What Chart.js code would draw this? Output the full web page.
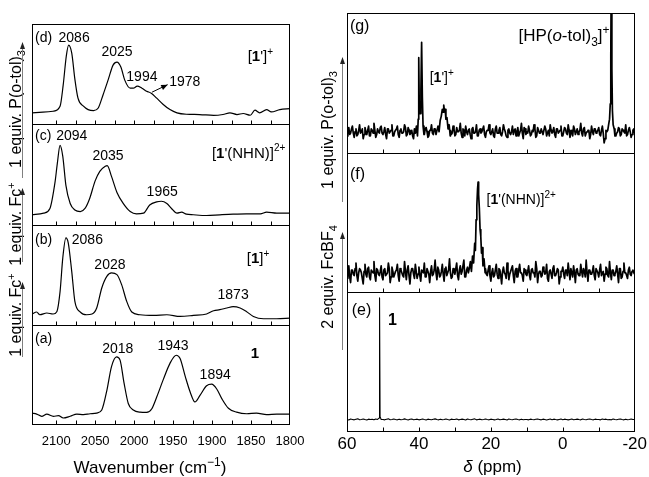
<!DOCTYPE html>
<html><head><meta charset="utf-8">
<script src="https://cdn.jsdelivr.net/npm/chart.js@4.4.1/dist/chart.umd.min.js"></script>
<style>
html,body{margin:0;padding:0;background:#fff;}
#wrap{position:relative;width:649px;height:477px;overflow:hidden;background:#fff;}
#cL{position:absolute;left:0;top:0;}
#cR{position:absolute;left:320px;top:0;}
</style></head><body>
<div id="wrap"><canvas id="cL" width="320" height="477"></canvas><canvas id="cR" width="329" height="477"></canvas></div>
<script>
const FONT = '"Liberation Sans", Arial, Helvetica, sans-serif';

// ---------- IR (left) ----------
const irTicks = [2100, 2050, 2000, 1950, 1900, 1850, 1800];
const irTickMarks = [2100, 2075, 2050, 2025, 2000, 1975, 1950, 1925, 1900, 1875, 1850, 1825];

const irDWn  = [2131,2117,2104,2095,2091,2087,2084,2080,2076,2072,2065,2059,2052,2046,2040,2033,2027,2022,2017,2012,2005,2001,1996,1990,1984,1978,1971,1963,1954,1945,1933,1916,1898,1886,1877,1868,1860,1851,1845,1839,1830,1824,1813,1800];
const irDAbs = [11.4,12,13,18,39,68,79,71,45,26,18,14.6,13.6,16.2,29,45,59,62,57,44,36,36,38,36,33,31,26,20,14.6,11.4,10,9.7,8.8,9.7,11.4,9.7,10.7,9,14,11.4,14.6,12.3,14.6,15.6];

const irCWn  = [2131,2116,2108,2101.5,2098.5,2095,2091.5,2087.5,2082,2076,2069,2063,2057,2050,2044,2037,2034.5,2029,2022,2014,2005,1997,1988,1980,1971,1965,1958,1952,1945,1939,1933,1924,1907,1890,1873,1856,1838,1830,1817,1800];
const irCAbs = [9.7,11.3,16,42,61,79,68,39,21,14.5,12.9,16,26,43.5,53,58,58.7,48,32,21,12.9,10.6,11.3,19.4,22.6,23.2,21,16,11.3,12.3,10.3,9.7,9,9.7,10.3,10.6,10.6,12.3,11.3,11.3];

const irBWn  = [2131,2125,2121,2112,2104,2099,2095,2091.5,2087.5,2084.5,2080,2076,2069,2061,2054,2048,2041.5,2035,2029,2022,2016,2009.5,2003,1992.5,1975,1958,1941,1924,1907,1898,1890,1881,1873,1864,1856,1847,1834,1817,1800];
const irBAbs = [10.7,12.7,10,11.7,10.7,13.3,33,66.7,86.7,81.7,53,23.3,12.7,10,10.7,16.7,36.7,48.3,51.7,50,40,23.3,12.7,10,9.3,10,8.3,9.3,10.7,14,15,16.7,18,16.7,13.3,8.3,6,6,6.7];

const irAWn  = [2131,2125,2118.5,2112,2103.5,2097,2091,2082,2073.5,2065,2056.5,2048,2041.5,2035,2029,2022.5,2018,2013,2007.5,2001,1992.5,1984,1977.5,1971,1962.5,1954,1946,1941,1934.5,1928,1922,1915.5,1907,1900.5,1894,1887.5,1879,1868.5,1855.5,1843,1830,1817,1800];
const irAAbs = [11.9,10.9,8.7,10.9,8.7,9.3,7,8.7,10.9,10.3,11.2,11.9,15,34.3,58.3,68,64.7,42.3,21.5,15,12.8,12.5,16,27.9,45.5,61.5,69.6,66.3,48.7,32.7,23,29.5,39.1,40.7,35.9,26.3,16.7,12.8,11.2,11.9,10.3,10.9,10.9];

// ---------- 31P NMR (right) ----------
const nmrTicks = [60, 40, 20, 0, -20];
const nmrTickMarks = [50, 40, 30, 20, 10, 0, -10];
const nmrStart = 60, nmrHalfStart = 59.75, nmrStep = -0.5;   // baseline samples, 60 ppm down to -20 ppm

const gNoise = [
 12,18,14,19,11,17,13,20,15,10,18,13,19,12,16,21,11,17,14,19,
 13,18,10,17,15,20,12,16,19,11,17,14,20,12,18,13,16,10,19,14,
 17,12,19,13,18,11,16,20,13,17,15,19,12,18,14,20,11,17,13,19,
 12,18,15,21,11,16,19,13,17,10,18,14,20,12,17,15,19,11,16,20,
 13,17,11,19,14,18,12,20,15,11,17,13,19,16,12,18,14,21,10,17,
 15,19,12,16,20,11,18,14,17,13,19,12,16,20,14,18,11,17,15,19,
 12,18,14,20,11,16,19,13,17,15,21,12,18,14,16,10,19,13,17,15,
 18,12,19,7,16,20,13,17,15,19,14,18,12,17,15,20,13,18,11,16,
 14];
const gNoiseHalf = [
 16,13,17,14,15,12,16,14,17,13,15,16,12,17,14,16,13,15,18,14,
 15,13,17,14,16,12,15,17,13,16,14,15,18,13,16,14,12,17,15,13,
 16,14,13,17,15,12,16,14,17,13,15,16,14,13,17,15,12,16,14,17,
 13,15,16,14,17,12,15,16,13,17,14,15,12,16,14,17,13,15,16,14,
 15,12,17,14,16,13,15,17,12,16,14,15,13,17,15,12,16,14,18,13,
 14,16,13,15,17,12,16,14,15,13,17,14,12,16,15,13,17,14,16,12,
 15,17,13,16,14,12,17,15,13,16,14,17,12,15,16,13,15,17,14,16,
 13,16,14,10,15,13,17,14,16,12,15,17,13,16,14,12,16,15,13,17];
const gPk1X = [41.0,40.7,40.4,40.2,40.05,39.9,39.7,39.45,39.25,39.05,38.85,38.6];
const gPk1Y = [14,19,12,24,68,30,28,45,79,40,19,13];
const gPk2X = [35.0,34.7,34.4,34.1,33.8,33.5,33.3,33.1,32.9,32.7,32.5,32.2,31.9,31.6,31.3];
const gPk2Y = [13,19,15,23,26,31,29,34,30,31,24,25,17,20,12];
const gPk3X = [-12.5,-12.8,-13.0,-13.2,-13.35,-13.5,-13.65,-13.8,-14.0,-14.3,-14.5];
const gPk3Y = [16,21,24,35,70,140,60,30,20,17,12];

const fNoise = [
 10,19,7,16,12,21,8,17,14,6,20,11,18,9,15,22,8,16,12,19,
 9,17,13,21,7,18,11,15,20,8,16,12,22,9,19,6,17,13,20,10,
 18,8,15,21,11,17,7,19,13,23,9,16,12,20,8,18,14,24,10,17,
 13,21,9,19,15,23,11,18,16,20,25,30,40,60,50,30,22,17,12,19,
 8,17,12,20,10,16,6,18,13,21,9,15,19,7,17,11,20,14,8,16,
 12,19,9,17,14,22,7,15,11,18,13,20,8,16,10,19,12,17,6,15,
 18,10,16,21,9,14,19,7,17,12,20,11,15,23,8,16,13,19,9,17,
 11,20,14,8,18,12,22,9,16,13,19,7,17,11,21,14,10,18,12,16,
 13];
const fNoiseHalf = [
 15,11,16,13,17,12,14,16,10,15,13,17,11,16,14,12,17,13,15,11,
 16,12,14,17,11,15,13,16,12,17,14,11,15,16,12,14,17,10,15,13,
 12,16,14,11,17,13,15,12,16,14,18,11,15,13,17,12,16,14,11,15,
 17,12,16,13,15,11,16,14,20,28,35,50,70,55,40,25,18,13,16,12,
 14,11,16,13,17,12,15,14,10,16,13,17,12,15,11,16,14,12,17,13,
 15,12,16,14,11,17,13,15,12,16,14,10,15,13,17,12,14,16,11,15,
 13,16,12,15,17,11,14,16,13,12,15,17,11,14,16,13,15,12,17,14,
 16,12,15,13,17,11,14,16,12,15,13,17,10,15,14,12,16,13,15,14];
const fPkX = [26.0,25.7,25.4,25.1,24.8,24.5,24.3,24.1,23.9,23.7,23.55,23.4,23.2,23.0,22.8,22.6,22.4,22.2,21.9,21.6];
const fPkY = [17,22,15,26,21,35,30,52,62,74,79,70,60,45,40,28,32,19,24,14];

const eNoise = [
 8.9,8.6,9.3,9.0,8.7,9.1,9.4,8.8,9.0,9.3,8.9,8.6,9.2,9.0,9.1,8.7,9.3,8.9,8.6,9.2,
 9.0,8.7,9.1,9.4,8.8,9.0,9.3,8.9,8.7,9.2,8.8,9.0,9.4,8.9,8.6,9.1,9.3,8.8,9.0,9.2,
 8.7,9.0,9.3,8.9,8.6,9.2,9.0,8.8,9.1,9.4,8.9,8.7,9.2,8.8,9.0,9.3,8.9,8.6,9.2,9.0,
 8.9,9.3,8.7,9.0,9.2,8.9,8.6,9.3,9.0,8.8,9.1,9.4,8.7,9.0,9.2,8.8,9.0,9.3,8.9,8.7,
 9.2,9.0,8.7,8.9,9.3,8.8,9.0,9.2,8.9,8.6,9.3,9.0,8.8,9.1,9.3,8.9,8.7,9.2,8.8,9.0,
 9.0,8.7,9.2,8.9,8.8,9.1,9.3,9.0,8.7,9.2,8.9,8.6,9.0,9.3,8.8,9.2,8.9,8.7,9.0,9.3,
 8.8,9.2,9.0,8.7,9.0,9.3,8.8,9.0,9.2,8.9,8.7,9.3,9.0,8.8,9.1,9.3,8.9,8.7,9.2,9.0,
 9.0,8.7,9.3,8.9,9.2,8.8,9.0,8.7,9.3,9.0,8.8,9.1,9.3,8.9,8.7,9.2,8.8,9.0,9.3,8.9,
 9.0];
const ePkX = [51.5,51.1,50.95,50.8,50.5];
const ePkY = [9,10,96,11,9];

// ---------- helpers ----------
function xy(xs, ys){ return xs.map((x,i)=>({x, y: ys[i]})); }
function nmrSeries(noiseLists, peaks){
  const pts = [];
  noiseLists.forEach(([start, noise])=>{
    noise.forEach((v,i)=>{
      const x = start + i*nmrStep;
      const inPeak = peaks.some(([px])=> x <= Math.max(...px) && x >= Math.min(...px));
      if(!inPeak) pts.push({x, y:v});
    });
  });
  peaks.forEach(([px,py])=> px.forEach((x,i)=>pts.push({x, y:py[i]})));
  pts.sort((a,b)=>b.x-a.x);
  return pts;
}
function parseRich(str){
  const segs=[]; let b=false, it=false, k=0;
  while(k<str.length){
    const c=str[k];
    if(c==='*'){b=!b;k++;continue;}
    if(c==='~'){it=!it;k++;continue;}
    if((c==='^'||c==='_')&&str[k+1]==='{'){
      const end=str.indexOf('}',k);
      segs.push({t:str.slice(k+2,end),b,i:it,pos:c==='^'?1:-1});
      k=end+1;continue;
    }
    let t='';
    while(k<str.length && str[k]!=='*' && str[k]!=='~' && !((str[k]==='^'||str[k]==='_')&&str[k+1]==='{')){t+=str[k];k++;}
    segs.push({t,b,i:it,pos:0});
  }
  return segs;
}
function drawRich(ctx,str,x,y,size,align){
  const segs=parseRich(str);
  const fontFor=s=>(s.i?'italic ':'')+(s.b?'bold ':'')+(s.pos?Math.round(size*0.68):size)+'px '+FONT;
  let w=0;
  segs.forEach(s=>{ctx.font=fontFor(s); s.w=ctx.measureText(s.t).width; w+=s.w;});
  let cx = align==='center'? x-w/2 : align==='right'? x-w : x;
  ctx.textAlign='left'; ctx.textBaseline='alphabetic'; ctx.fillStyle='#000';
  const base=y+size*0.36;
  segs.forEach(s=>{
    ctx.font=fontFor(s);
    const dy = s.pos===1 ? -size*0.42 : s.pos===-1 ? size*0.24 : 0;
    ctx.fillText(s.t,cx,base+dy); cx+=s.w;
  });
}
function arrowLine(ctx,x,y1,y2){
  ctx.save();
  ctx.strokeStyle='#808080'; ctx.lineWidth=1;
  ctx.beginPath(); ctx.moveTo(x+0.5,y1); ctx.lineTo(x+0.5,y2+5); ctx.stroke();
  ctx.fillStyle='#222';
  ctx.beginPath(); ctx.moveTo(x+0.5,y2); ctx.lineTo(x-2,y2+7); ctx.lineTo(x+3,y2+7); ctx.closePath(); ctx.fill();
  ctx.restore();
}

function decoPlugin(cfg){
  return {
    id:'deco',
    afterDraw(chart){
      const ctx=chart.ctx, xs=chart.scales.x, a=chart.chartArea;
      ctx.save();
      ctx.strokeStyle='#000'; ctx.lineWidth=1;
      const L=Math.round(a.left)+0.5, R=Math.round(a.right)-0.5;
      const T=Math.round(a.top)+0.5, B=Math.round(a.bottom)-0.5;
      ctx.strokeRect(L,T,R-L,B-T);
      cfg.panels.forEach((id,k)=>{
        const s=chart.scales[id];
        const yb = k===cfg.panels.length-1 ? B : Math.round(s.bottom)+0.5;
        if(k<cfg.panels.length-1){ctx.beginPath();ctx.moveTo(L,yb);ctx.lineTo(R,yb);ctx.stroke();}
        cfg.tickMarks.forEach(v=>{
          const px=Math.round(xs.getPixelForValue(v))+0.5;
          ctx.beginPath();ctx.moveTo(px,yb);ctx.lineTo(px,yb-4);ctx.stroke();
        });
      });
      cfg.labels.forEach(([id,text,xv,yv,align,size])=>{
        drawRich(ctx,text,xs.getPixelForValue(xv),chart.scales[id].getPixelForValue(yv),size,align);
      });
      (cfg.arrows||[]).forEach(([id,x1,y1,x2,y2])=>{
        const s=chart.scales[id];
        const p1=[xs.getPixelForValue(x1),s.getPixelForValue(y1)], p2=[xs.getPixelForValue(x2),s.getPixelForValue(y2)];
        ctx.beginPath();ctx.moveTo(p1[0],p1[1]);ctx.lineTo(p2[0],p2[1]);ctx.stroke();
        const ang=Math.atan2(p2[1]-p1[1],p2[0]-p1[0]);
        ctx.fillStyle='#000';ctx.beginPath();ctx.moveTo(p2[0],p2[1]);
        ctx.lineTo(p2[0]-7*Math.cos(ang-0.4),p2[1]-7*Math.sin(ang-0.4));
        ctx.lineTo(p2[0]-7*Math.cos(ang+0.4),p2[1]-7*Math.sin(ang+0.4));
        ctx.closePath();ctx.fill();
      });
      cfg.side.forEach(sd=>{
        ctx.save(); ctx.translate(sd.cx,sd.cy); ctx.rotate(-Math.PI/2);
        drawRich(ctx,sd.text,0,0,sd.size,'center'); ctx.restore();
        arrowLine(ctx,sd.lx,sd.y1,sd.y2);
      });
      drawRich(ctx,cfg.title.text,cfg.title.x,cfg.title.y,cfg.title.size,'center');
      ctx.restore();
    }
  };
}

function yAxis(weight){
  return {type:'linear',min:0,max:100,display:false,stack:'s',stackWeight:1,weight,position:'left'};
}
function lineDs(data,axis,smooth,width){
  return {data,yAxisID:axis,xAxisID:'x',borderColor:'#000',borderWidth:width,pointRadius:0,fill:false,
    tension:0,cubicInterpolationMode:smooth?'monotone':'default',borderJoinStyle:'round'};
}

// ---------- Left chart (IR) ----------
const irLabels = [
  ['yD','(d)',2127,87,'left',14],
  ['yD','2086',2077,87,'center',14],
  ['yD','2025',2022,73,'center',14],
  ['yD','1994',1990,48,'center',14],
  ['yD','1978',1935,43,'center',14],
  ['yD',"[*1*']^{+}",1838,68,'center',15],
  ['yC','(c)',2127,89,'left',14],
  ['yC','2094',2080,89,'center',14],
  ['yC','2035',2033.5,69,'center',14],
  ['yC','1965',1964,33,'center',14],
  ['yC',"[*1*'(NHN)]^{2+}",1806,72,'right',15],
  ['yB','(b)',2127,86,'left',14],
  ['yB','2086',2060,86,'center',14],
  ['yB','2028',2031,61,'center',14],
  ['yB','1873',1873,31,'center',14],
  ['yB','[*1*]^{+}',1841,67,'center',15],
  ['yA','(a)',2127,87,'left',14],
  ['yA','2018',2021,77,'center',14],
  ['yA','1943',1950,80,'center',14],
  ['yA','1894',1896,51,'center',14],
  ['yA','*1*',1845,72,'center',15]
];
new Chart(document.getElementById('cL'),{
  type:'line',
  data:{datasets:[
    lineDs(xy(irDWn,irDAbs),'yD',true,1.2),
    lineDs(xy(irCWn,irCAbs),'yC',true,1.2),
    lineDs(xy(irBWn,irBAbs),'yB',true,1.2),
    lineDs(xy(irAWn,irAAbs),'yA',true,1.2)
  ]},
  options:{
    responsive:false,animation:false,events:[],
    layout:{padding:{left:32,right:30,top:24,bottom:18.4}},
    plugins:{legend:{display:false},tooltip:{enabled:false}},
    scales:{
      x:{type:'linear',min:1800,max:2131,reverse:true,position:'bottom',
        grid:{display:false,drawTicks:false},border:{display:false},
        ticks:{font:{family:FONT,size:13},color:'#000',padding:9,maxRotation:0,autoSkip:false,callback:v=>String(v)},
        afterBuildTicks:s=>{s.ticks=irTicks.map(v=>({value:v}));}},
      yD:yAxis(4),yC:yAxis(3),yB:yAxis(2),yA:yAxis(1)
    }
  },
  plugins:[decoPlugin({
    panels:['yD','yC','yB','yA'],tickMarks:irTickMarks,labels:irLabels,
    arrows:[['yD',1977,32,1957,39.5]],
    side:[
      {text:'1 equiv. P(o-tol)_{3}',cx:15.5,cy:109,lx:22,y1:178,y2:42,size:16},
      {text:'1 equiv. Fc^{+}',cx:15.5,cy:224,lx:22,y1:262,y2:188,size:16},
      {text:'1 equiv. Fc^{+}',cx:15.5,cy:315,lx:22,y1:357,y2:282,size:16}
    ],
    title:{text:'Wavenumber (cm^{\u22121})',x:150,y:467,size:17}
  })]
});

// ---------- Right chart (NMR) ----------
const nmrLabels = [
  ['yG','(g)',59.2,91,'left',16],
  ['yG','[HP(~o~-tol)_{3}]^{+}',-13.0,84,'right',17],
  ['yG',"[*1*']^{+}",37.0,54,'left',14],
  ['yF','(f)',59.2,85,'left',16],
  ['yF',"[*1*'(NHN)]^{2+}",21.2,67,'left',14],
  ['yE','(e)',58.7,88,'left',16],
  ['yE','*1*',48.6,81,'left',16]
];
new Chart(document.getElementById('cR'),{
  type:'line',
  data:{datasets:[
    lineDs(nmrSeries([[nmrStart,gNoise],[nmrHalfStart,gNoiseHalf]],[[gPk1X,gPk1Y],[gPk2X,gPk2Y],[gPk3X,gPk3Y]]),'yG',false,1.7),
    lineDs(nmrSeries([[nmrStart,fNoise],[nmrHalfStart,fNoiseHalf]],[[fPkX,fPkY]]),'yF',false,1.7),
    lineDs(nmrSeries([[nmrStart,eNoise]],[[ePkX,ePkY]]),'yE',false,1.1)
  ]},
  options:{
    responsive:false,animation:false,events:[],
    layout:{padding:{left:27,right:13,top:13,bottom:20.6}},
    plugins:{legend:{display:false},tooltip:{enabled:false}},
    scales:{
      x:{type:'linear',min:-20,max:60,reverse:true,position:'bottom',
        grid:{display:false,drawTicks:false},border:{display:false},
        ticks:{font:{family:FONT,size:17},color:'#000',padding:2,maxRotation:0,autoSkip:false,callback:v=>String(v)},
        afterBuildTicks:s=>{s.ticks=nmrTicks.map(v=>({value:v}));}},
      yG:yAxis(3),yF:yAxis(2),yE:yAxis(1)
    }
  },
  plugins:[decoPlugin({
    panels:['yG','yF','yE'],tickMarks:nmrTickMarks,labels:nmrLabels,
    side:[
      {text:'1 equiv. P(o-tol)_{3}',cx:7.5,cy:130,lx:22,y1:202,y2:57,size:16},
      {text:'2 equiv. FcBF_{4}',cx:7.5,cy:277,lx:22,y1:350,y2:232,size:16}
    ],
    title:{text:'~\u03b4~ (ppm)',x:172.5,y:466,size:17}
  })]
});
</script>
</body></html>
